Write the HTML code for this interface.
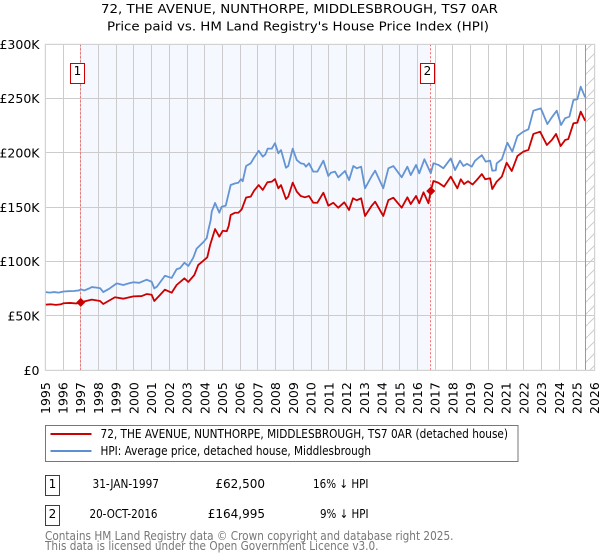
<!DOCTYPE html>
<html>
<head>
<meta charset="utf-8">
<title>72, The Avenue price chart</title>
<style>
html,body{margin:0;padding:0;background:#fff;}
body{width:600px;height:560px;overflow:hidden;}
svg{display:block;font-family:"DejaVu Sans",sans-serif;}
</style>
</head>
<body>
<svg id="chart" xmlns="http://www.w3.org/2000/svg" width="600" height="560" viewBox="0 0 600 560">
  <defs>
    <pattern id="hatch" patternUnits="userSpaceOnUse" width="12" height="12">
      <path d="M-1 13 L13 -1" stroke="#cccccc" stroke-width="1" fill="none"/>
    </pattern>
  </defs>
  <text x="299.5" y="13" font-size="12" text-anchor="middle" textLength="397" lengthAdjust="spacingAndGlyphs" fill="#000">72, THE AVENUE, NUNTHORPE, MIDDLESBROUGH, TS7 0AR</text>
  <text x="298" y="30.5" font-size="12" text-anchor="middle" textLength="382" lengthAdjust="spacingAndGlyphs" fill="#000">Price paid vs. HM Land Registry's House Price Index (HPI)</text>
  <g id="plot"></g>

  <g>
    <rect x="45.5" y="425.5" width="472.5" height="36" fill="#fff" stroke="#777" stroke-width="1"/>
    <line x1="50.5" x2="91.5" y1="434" y2="434" stroke="#cc0000" stroke-width="2"/>
    <text x="100.5" y="438" font-size="12" textLength="407.5" lengthAdjust="spacingAndGlyphs" fill="#000">72, THE AVENUE, NUNTHORPE, MIDDLESBROUGH, TS7 0AR (detached house)</text>
    <line x1="50.5" x2="91.5" y1="451" y2="451" stroke="#5f8fd3" stroke-width="2"/>
    <text x="100.5" y="455" font-size="12" textLength="270.5" lengthAdjust="spacingAndGlyphs" fill="#000">HPI: Average price, detached house, Middlesbrough</text>
  </g>

  <g font-size="12" fill="#000">
    <rect x="45.5" y="475.5" width="14" height="20" fill="#fff" stroke="#cc0000" stroke-width="1"/>
    <text x="52.5" y="488" text-anchor="middle">1</text>
    <text x="92.5" y="488" textLength="66.5" lengthAdjust="spacingAndGlyphs">31-JAN-1997</text>
    <text x="265" y="488" text-anchor="end">£62,500</text>
    <text x="368.5" y="488" text-anchor="end" textLength="55.5" lengthAdjust="spacingAndGlyphs">16% ↓ HPI</text>
  </g>
  <g font-size="12" fill="#000">
    <rect x="45.5" y="505.5" width="14" height="20" fill="#fff" stroke="#cc0000" stroke-width="1"/>
    <text x="52.5" y="518" text-anchor="middle">2</text>
    <text x="89.5" y="518" textLength="68" lengthAdjust="spacingAndGlyphs">20-OCT-2016</text>
    <text x="265" y="518" text-anchor="end">£164,995</text>
    <text x="368.5" y="518" text-anchor="end" textLength="48.5" lengthAdjust="spacingAndGlyphs">9% ↓ HPI</text>
  </g>

  <text x="45" y="540" font-size="12" fill="#777" textLength="408.5" lengthAdjust="spacingAndGlyphs">Contains HM Land Registry data © Crown copyright and database right 2025.</text>
  <text x="45" y="550" font-size="12" fill="#777" textLength="333.5" lengthAdjust="spacingAndGlyphs">This data is licensed under the Open Government Licence v3.0.</text>
</svg>

<script>
var yearTicks = [1995,1996,1997,1998,1999,2000,2001,2002,2003,2004,2005,2006,2007,2008,2009,2010,2011,2012,2013,2014,2015,2016,2017,2018,2019,2020,2021,2022,2023,2024,2025,2026];
var priceTicks = [0,50,100,150,200,250,300];
var priceTickLabels = ['£0','£50K','£100K','£150K','£200K','£250K','£300K'];
var saleLabels = ['1','2'];
var saleYears = [1997.00,2016.75];
var salePrices = [62.5,164.995];
var dataEndYear = 2025.49;

var hpiYears = [1995.00,1995.25,1995.50,1995.75,1996.03,1996.30,1996.60,1996.90,1997.01,1997.20,1997.50,1997.62,1997.95,1998.10,1998.27,1998.60,1999.03,1999.40,1999.70,1999.97,2000.30,2000.72,2001.00,2001.15,2001.30,2001.75,2002.13,2002.41,2002.60,2002.85,2003.07,2003.35,2003.54,2003.92,2004.11,2004.20,2004.33,2004.39,2004.58,2004.82,2004.95,2005.18,2005.46,2005.71,2005.89,2006.04,2006.14,2006.33,2006.59,2006.78,2007.04,2007.27,2007.42,2007.55,2007.78,2007.96,2008.15,2008.30,2008.58,2008.71,2008.96,2009.19,2009.41,2009.60,2009.71,2009.88,2010.12,2010.35,2010.69,2010.97,2011.11,2011.35,2011.53,2011.91,2012.14,2012.38,2012.57,2012.82,2013.04,2013.42,2013.61,2014.07,2014.36,2014.64,2015.11,2015.43,2015.62,2015.92,2016.10,2016.39,2016.75,2016.90,2017.18,2017.46,2017.88,2018.12,2018.40,2018.59,2018.80,2019.06,2019.25,2019.63,2019.85,2020.10,2020.22,2020.42,2020.47,2020.76,2021.07,2021.35,2021.64,2021.97,2022.26,2022.54,2022.96,2023.33,2023.58,2023.86,2024.10,2024.33,2024.57,2024.80,2025.02,2025.21,2025.46];
var hpiValues = [72,71.5,72,71.5,72.5,72.8,73,73.5,74.5,73.5,75.5,76.6,76,75.5,72,75,80,78.5,80,81,80.5,83.4,81.5,75.4,77,87,85,93,94,99,96,103.6,112,118,121.7,129,138,146,154,145,150.5,151.5,170.5,172,172.6,175.8,174,188,190.5,195.6,202,196.6,198.8,204,204,209,199.7,202.7,186.4,188,204,193.5,190.5,189.8,187.4,190.5,182.8,182.8,192.9,178.8,181.8,182.8,177.6,183.4,175,188,185.9,187.4,167.5,178.8,183.7,167.5,185.9,188,177.6,187.4,179.7,189,181.3,194.2,181.3,190.5,189,185.9,195,184.3,192.9,188,190,187.4,192.9,198,192,192.9,183.7,184,190.5,194.2,209.4,201.2,215.6,219.6,221.8,238.9,241,226.6,232.8,238.9,225.7,232,233.4,248.7,249.4,261,251.2];

var paidYears = [1995.00,1995.30,1995.60,1995.90,1996.03,1996.40,1996.75,1997.00,1997.30,1997.62,1998.09,1998.27,1998.93,1999.40,1999.97,2000.44,2000.72,2001.00,2001.15,2001.47,2001.75,2002.13,2002.41,2002.85,2003.07,2003.41,2003.63,2003.92,2004.14,2004.30,2004.58,2004.82,2005.01,2005.24,2005.35,2005.46,2005.71,2005.89,2006.08,2006.33,2006.59,2006.78,2007.04,2007.27,2007.53,2007.78,2007.96,2008.15,2008.30,2008.58,2008.71,2008.96,2009.19,2009.41,2009.65,2009.88,2010.12,2010.35,2010.69,2010.97,2011.25,2011.53,2011.87,2012.14,2012.36,2012.57,2012.82,2013.04,2013.42,2013.61,2014.07,2014.36,2014.64,2015.11,2015.43,2015.62,2015.92,2016.10,2016.34,2016.62,2016.75,2016.90,2017.18,2017.50,2017.88,2018.25,2018.44,2018.63,2018.85,2019.11,2019.34,2019.63,2019.82,2020.10,2020.22,2020.47,2020.76,2021.03,2021.32,2021.64,2021.97,2022.26,2022.54,2022.92,2023.30,2023.58,2023.82,2024.08,2024.33,2024.51,2024.80,2025.02,2025.21,2025.46];
var paidValues = [60.4,60.8,60.2,60.8,61.7,62,61.5,62.5,63.8,65,63.8,61,67.2,65.9,68,68.3,70.2,69.5,63.8,69.3,74.2,71.4,78.5,84.6,81.3,87.7,96.9,100.9,104,115.3,130,123,128.4,128,133,143,145,145,148,159,159.8,165.3,170.5,166,173,173.6,176,167.5,170.5,157.6,159.8,172.7,164.4,160.4,159.2,160.4,154.2,154.2,163.4,151.5,154.2,149.6,154.6,147.5,158.3,156.5,158.3,142,151.5,155.2,142,156.7,158.8,149.6,159.2,153,160.4,153.7,163.8,153.7,165,174.2,172.6,169,178.2,167.5,175.8,171.4,174,171,175,180.6,175.8,176.7,166.8,173.6,178.2,191,183.4,197.2,201.2,202.8,217.5,219.6,207.3,211.9,217.5,206.4,211.9,212.8,227.3,227.8,238,229.7];

var plotLeft = 45.3, plotRight = 594.7, plotTop = 44.3, plotBottom = 370.3;
var NS = 'http://www.w3.org/2000/svg';
var plot = document.getElementById('plot');

function xScale(year) {
  return plotLeft + (year - 1995) * (plotRight - plotLeft) / 31;
}
function yScale(k) {
  return plotBottom - k * (plotBottom - plotTop) / 300;
}
function snap(v) {
  return Math.floor(v) + 0.5;
}
function make(tag, attrs) {
  var el = document.createElementNS(NS, tag);
  for (var key in attrs) { el.setAttribute(key, attrs[key]); }
  plot.appendChild(el);
  return el;
}
function pathFrom(xs, ys) {
  var d = '';
  for (var i = 0; i < xs.length; i++) {
    d += (i ? 'L' : 'M') + xScale(xs[i]).toFixed(2) + ' ' + yScale(ys[i]).toFixed(2);
  }
  return d;
}

var band = make('rect', {x: xScale(saleYears[0]), y: plotTop, width: xScale(saleYears[1]) - xScale(saleYears[0]), height: plotBottom - plotTop, fill: '#f5f8ff'});



var hatchArea = make('rect', {x: xScale(dataEndYear), y: plotTop, width: plotRight - xScale(dataEndYear), height: plotBottom - plotTop, fill: 'url(#hatch)'});



yearTicks.forEach(function (yr) {
  var gx = snap(xScale(yr));
  var grid = make('line', {x1: gx, x2: gx, y1: plotTop, y2: plotBottom, stroke: '#cccccc', 'stroke-width': 1});
  
  
  var label = make('text', {transform: 'translate(' + (xScale(yr) + 4.5) + ',414) rotate(-90)', 'font-size': 12.5, fill: '#000'});
  
  
  label.textContent = yr;
});

priceTicks.forEach(function (p, i) {
  var gy = snap(yScale(p));
  var grid = make('line', {x1: plotLeft, x2: plotRight, y1: gy, y2: gy, stroke: '#cccccc', 'stroke-width': 1});
  
  
  var label = make('text', {x: 39.5, y: yScale(p) + 4.5, 'font-size': 12.5, 'text-anchor': 'end', fill: '#000'});
  
  
  label.textContent = priceTickLabels[i];
});

var endLine = make('line', {x1: snap(xScale(dataEndYear)), x2: snap(xScale(dataEndYear)), y1: plotTop, y2: plotBottom, stroke: '#999999', 'stroke-width': 1});



saleYears.forEach(function (yr) {
  var vline = make('line', {x1: snap(xScale(yr)), x2: snap(xScale(yr)), y1: plotTop, y2: plotBottom, stroke: '#ff6666', 'stroke-width': 1, 'stroke-dasharray': '2 2'});
  
  
});

var hpiLine = make('path', {d: pathFrom(hpiYears, hpiValues), fill: 'none', stroke: '#6394d4', 'stroke-width': 1.8, 'stroke-linejoin': 'round'});



var paidLine = make('path', {d: pathFrom(paidYears, paidValues), fill: 'none', stroke: '#cc0000', 'stroke-width': 1.8, 'stroke-linejoin': 'round'});



saleYears.forEach(function (yr, i) {
  var cx = xScale(yr), cy = yScale(salePrices[i]);
  var pts = (cx - 4.5) + ',' + cy + ' ' + cx + ',' + (cy - 4.5) + ' ' + (cx + 4.5) + ',' + cy + ' ' + cx + ',' + (cy + 4.5);
  var marker = make('polygon', {points: pts, fill: '#cc0000'});
  
  
  var box = make('rect', {x: snap(cx - 10), y: 63.5, width: 14, height: 20, fill: '#fff', stroke: '#cc0000', 'stroke-width': 1});
  
  
  var num = make('text', {x: snap(cx - 10) + 7, y: 75, 'font-size': 12, 'text-anchor': 'middle', fill: '#000'});
  
  
  num.textContent = saleLabels[i];
});

var frame = make('rect', {x: plotLeft, y: plotTop, width: plotRight - plotLeft, height: plotBottom - plotTop, fill: 'none', stroke: '#d4d4d4', 'stroke-width': 1});


</script>
</body>
</html>
